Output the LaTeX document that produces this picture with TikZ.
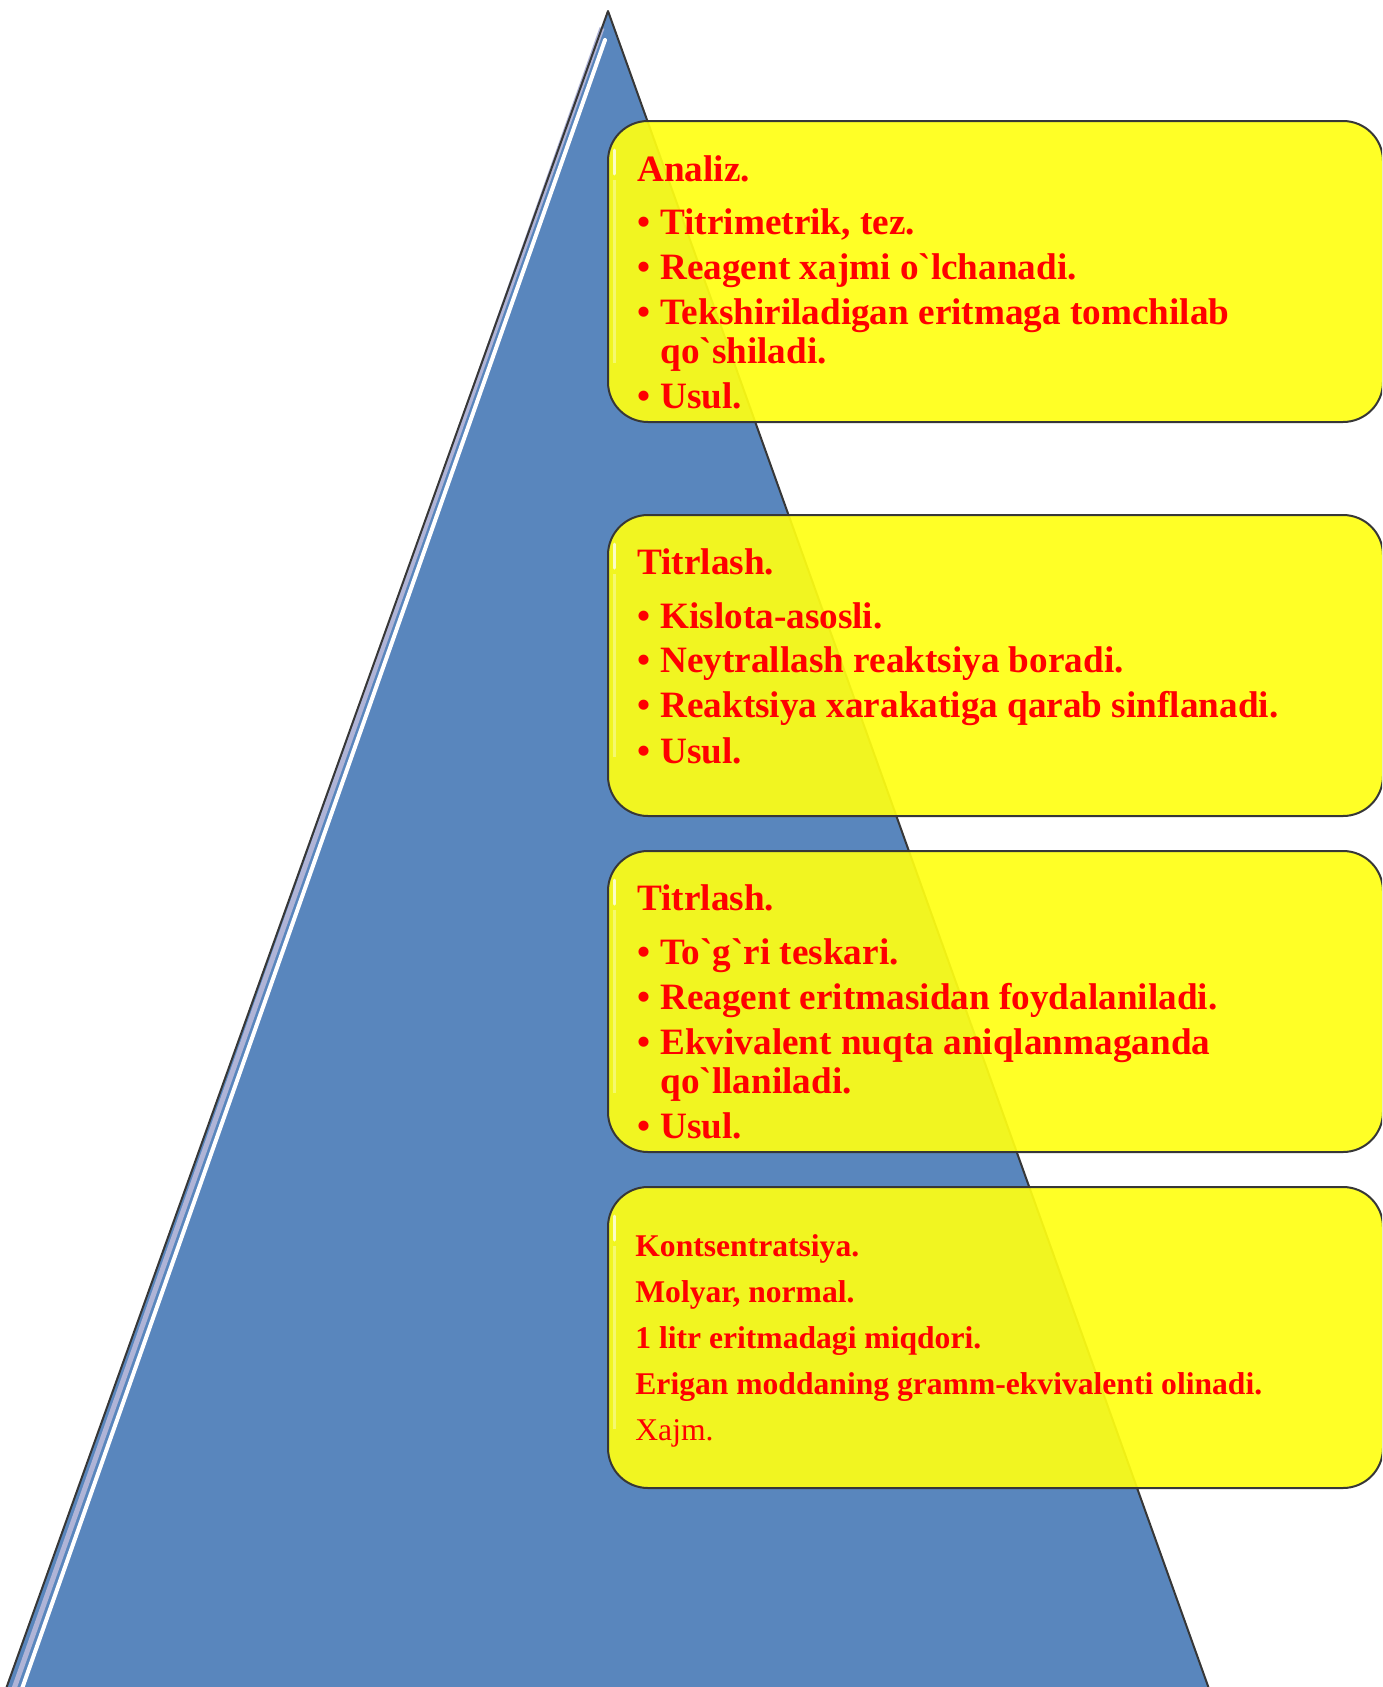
\documentclass[tikz,border=0pt]{standalone}
\usepackage{fontspec}
\setmainfont{Liberation Serif}
\definecolor{triblue}{RGB}{89,134,189}
\definecolor{trilav}{RGB}{175,180,215}
\definecolor{boxyellow}{RGB}{255,255,20}
\definecolor{edgegray}{RGB}{55,55,55}
\definecolor{txtred}{RGB}{255,0,0}
\newcommand\bq{\XeTeXglyph\XeTeXcharglyph"0060\relax}
\begin{document}
\begin{tikzpicture}[x=0.5pt,y=-0.5pt,
  panel/.style={draw=edgegray, line width=1pt, fill=boxyellow, fill opacity=0.92,
    rounded corners=20pt, anchor=north west, minimum width=387.5pt, minimum height=150.5pt, inner sep=0pt},
  gloss/.style={white, opacity=0.75, line width=1.5pt, line cap=round},
  bigtxt/.style={anchor=base west, inner sep=0pt, text=txtred, font=\fontsize{18.6}{22}\selectfont\bfseries},
  smalltxt/.style={anchor=base west, inner sep=0pt, text=txtred, font=\fontsize{15.8}{19}\selectfont\bfseries},
  plaintxt/.style={anchor=base west, inner sep=0pt, text=txtred, font=\fontsize{15.8}{19}\selectfont}
]
\useasboundingbox (0,0) rectangle (1382,1687);
\clip (0,0) rectangle (1382,1687);
% pyramid
\coordinate (apex) at (608,11);
\coordinate (tl) at (2,1700);
\coordinate (tr) at (1213,1700);
\coordinate (hl1) at (602,28);
\coordinate (hl2) at (10,1700);
\coordinate (hw1) at (605,40);
\coordinate (hw2) at (18,1700);
\fill[triblue] (apex) -- (tl) -- (tr) -- cycle;
\draw[trilav, line width=2.5pt] (hl1) -- (hl2);
\draw[white, line width=2pt, line cap=round] (hw1) -- (hw2);
\draw[edgegray, line width=1pt, line join=round] (tl) -- (apex) -- (tr);
% panels
\node[panel] (box1) at (607,120) {};
\node[panel] (box2) at (607,514) {};
\node[panel] (box3) at (607,850) {};
\node[panel] (box4) at (607,1186) {};
\foreach \b in {box1,box2,box3,box4}{
  \draw[gloss] ([xshift=3.5pt,yshift=-15pt]\b.north west) -- ([xshift=3.5pt,yshift=-27pt]\b.north west);
  \draw[white, opacity=0.35, line width=1.5pt] ([xshift=3.5pt,yshift=-30pt]\b.north west) -- ([xshift=3.5pt,yshift=30pt]\b.south west);
}
% box 1
\node[bigtxt] (h1) at (637,181) {Analiz.};
\node[bigtxt] (a1) at (637,234) {\makebox[11.5pt][l]{•}Titrimetrik, tez.};
\node[bigtxt] (a2) at (637,279) {\makebox[11.5pt][l]{•}Reagent xajmi o\bq lchanadi.};
\node[bigtxt] (a3) at (637,324) {\makebox[11.5pt][l]{•}Tekshiriladigan eritmaga tomchilab};
\node[bigtxt] (a3w) at (660,363) {qo\bq shiladi.};
\node[bigtxt] (a4) at (637,408) {\makebox[11.5pt][l]{•}Usul.};
% box 2
\node[bigtxt] (h2) at (637,574) {Titrlash.};
\node[bigtxt] (b1) at (637,628) {\makebox[11.5pt][l]{•}Kislota-asosli.};
\node[bigtxt] (b2) at (637,672) {\makebox[11.5pt][l]{•}Neytrallash reaktsiya boradi.};
\node[bigtxt] (b3) at (637,717) {\makebox[11.5pt][l]{•}Reaktsiya xarakatiga qarab sinflanadi.};
\node[bigtxt] (b4) at (637,763) {\makebox[11.5pt][l]{•}Usul.};
% box 3
\node[bigtxt] (h3) at (637,910) {Titrlash.};
\node[bigtxt] (c1) at (637,964) {\makebox[11.5pt][l]{•}To\bq g\bq ri teskari.};
\node[bigtxt] (c2) at (637,1009) {\makebox[11.5pt][l]{•}Reagent eritmasidan foydalaniladi.};
\node[bigtxt] (c3) at (637,1054) {\makebox[11.5pt][l]{•}Ekvivalent nuqta aniqlanmaganda};
\node[bigtxt] (c3w) at (660,1093) {qo\bq llaniladi.};
\node[bigtxt] (c4) at (637,1138) {\makebox[11.5pt][l]{•}Usul.};
% box 4
\node[smalltxt] (d1) at (635,1256) {Kontsentratsiya.};
\node[smalltxt] (d2) at (635,1302) {Molyar, normal.};
\node[smalltxt] (d3) at (635,1348) {1 litr eritmadagi miqdori.};
\node[smalltxt] (d4) at (635,1394) {Erigan moddaning gramm-ekvivalenti olinadi.};
\node[plaintxt] (d5) at (635,1440) {Xajm.};
\end{tikzpicture}
\end{document}
